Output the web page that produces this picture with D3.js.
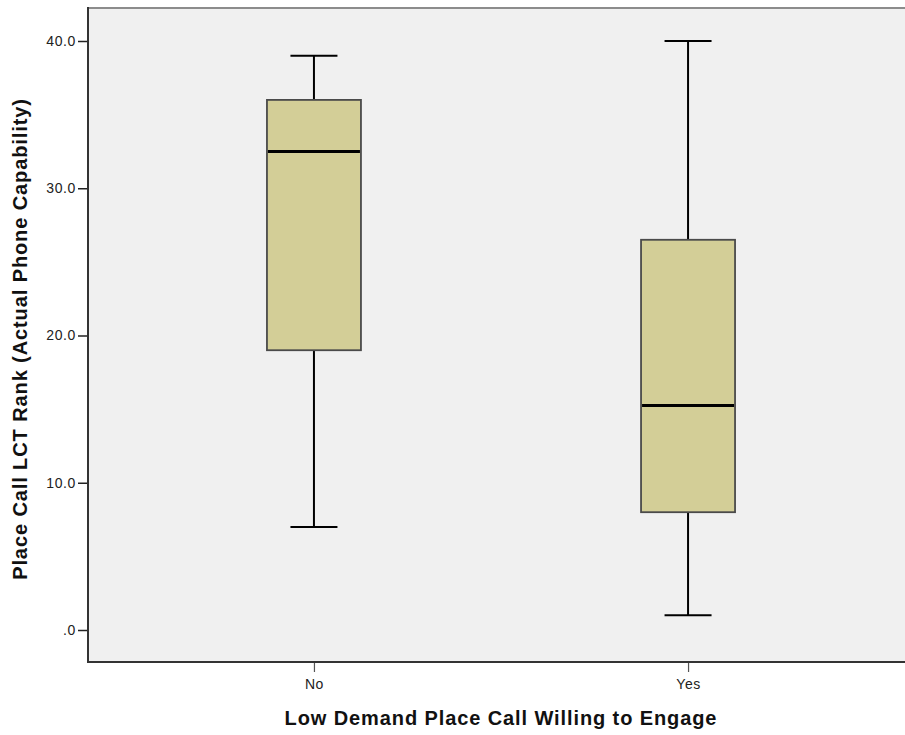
<!DOCTYPE html>
<html>
<head>
<meta charset="utf-8">
<script src="https://cdn.jsdelivr.net/npm/d3@7"></script>
<style>
  body { margin: 0; background: #fff; }
  svg { display: block; }
  text { font-family: "Liberation Sans", Arial, sans-serif; }
</style>
</head>
<body>
<script>
// Groups and their five-number summaries
const groups = ["No", "Yes"];
const whiskerLow = [7, 1];
const q1 = [19, 8];
const median = [32.5, 15.25];
const q3 = [36, 26.5];
const whiskerHigh = [39, 40];
const yTicks = [0, 10, 20, 30, 40];

const width = 905, height = 735;
const plot = { left: 88, top: 8, right: 914, bottom: 662 };

const svg = d3.select("body").append("svg")
  .attr("width", width).attr("height", height);

const x = d3.scalePoint().domain(groups)
  .range([plot.left, plot.right]).padding(0.604);
const y = d3.scaleLinear().domain([0, 40])
  .range([630, 41]);

// plot background
svg.append("rect")
  .attr("x", plot.left).attr("y", plot.top)
  .attr("width", plot.right - plot.left).attr("height", plot.bottom - plot.top)
  .attr("fill", "#f0f0f0");

// top frame line
svg.append("line")
  .attr("x1", plot.left).attr("x2", width)
  .attr("y1", plot.top).attr("y2", plot.top)
  .attr("stroke", "#8c8c8c").attr("stroke-width", 2);

const boxW = 94, capW = 47;
const data = groups.map((g, i) => ({
  g, lo: whiskerLow[i], q1: q1[i], med: median[i], q3: q3[i], hi: whiskerHigh[i]
}));

const box = svg.append("g").selectAll("g").data(data).join("g");

// whisker stems
box.append("line")
  .attr("x1", d => x(d.g)).attr("x2", d => x(d.g))
  .attr("y1", d => y(d.hi)).attr("y2", d => y(d.q3))
  .attr("stroke", "#000").attr("stroke-width", 2);
box.append("line")
  .attr("x1", d => x(d.g)).attr("x2", d => x(d.g))
  .attr("y1", d => y(d.q1)).attr("y2", d => y(d.lo))
  .attr("stroke", "#000").attr("stroke-width", 2);
// whisker caps
box.append("line")
  .attr("x1", d => x(d.g) - capW / 2).attr("x2", d => x(d.g) + capW / 2)
  .attr("y1", d => y(d.hi)).attr("y2", d => y(d.hi))
  .attr("stroke", "#000").attr("stroke-width", 2);
box.append("line")
  .attr("x1", d => x(d.g) - capW / 2).attr("x2", d => x(d.g) + capW / 2)
  .attr("y1", d => y(d.lo)).attr("y2", d => y(d.lo))
  .attr("stroke", "#000").attr("stroke-width", 2);
// boxes
box.append("rect")
  .attr("x", d => x(d.g) - boxW / 2).attr("width", boxW)
  .attr("y", d => y(d.q3)).attr("height", d => y(d.q1) - y(d.q3))
  .attr("fill", "#d3ce97").attr("stroke", "#4a4a4a").attr("stroke-width", 1.8);
// medians
box.append("line")
  .attr("x1", d => x(d.g) - boxW / 2 + 1).attr("x2", d => x(d.g) + boxW / 2 - 1)
  .attr("y1", d => y(d.med)).attr("y2", d => y(d.med))
  .attr("stroke", "#000").attr("stroke-width", 3);

// y axis
const yAxis = svg.append("g")
  .attr("transform", `translate(${plot.left},0)`)
  .call(d3.axisLeft(y).tickValues(yTicks).tickSize(10).tickPadding(2)
    .tickFormat(d => d === 0 ? ".0" : d3.format(".1f")(d)));
yAxis.select(".domain").remove();
yAxis.selectAll(".tick line").attr("stroke", "#222").attr("stroke-width", 1.5);
yAxis.selectAll(".tick text").attr("font-size", 14).attr("letter-spacing", 0.6)
  .attr("fill", "#222").attr("font-family", "Liberation Sans, Arial, sans-serif");

// x axis
const xAxis = svg.append("g")
  .attr("transform", `translate(0,${plot.bottom})`)
  .call(d3.axisBottom(x).tickSize(10).tickPadding(7));
xAxis.select(".domain").remove();
xAxis.selectAll(".tick line").attr("stroke", "#555").attr("stroke-width", 1.2);
xAxis.selectAll(".tick text").attr("font-size", 14).attr("letter-spacing", 0.6)
  .attr("fill", "#222").attr("font-family", "Liberation Sans, Arial, sans-serif");

// left and bottom frame lines
svg.append("line")
  .attr("x1", plot.left).attr("x2", plot.left)
  .attr("y1", plot.top - 1).attr("y2", plot.bottom)
  .attr("stroke", "#333").attr("stroke-width", 2);
svg.append("line")
  .attr("x1", plot.left - 1).attr("x2", width)
  .attr("y1", plot.bottom).attr("y2", plot.bottom)
  .attr("stroke", "#333").attr("stroke-width", 2);

// axis titles
svg.append("text")
  .attr("x", 501).attr("y", 725)
  .attr("text-anchor", "middle")
  .attr("font-size", 20).attr("letter-spacing", 0.9)
  .attr("font-weight", "bold").attr("fill", "#111")
  .text("Low Demand Place Call Willing to Engage");

svg.append("text")
  .attr("transform", "translate(27,339) rotate(-90)")
  .attr("text-anchor", "middle")
  .attr("font-size", 20).attr("letter-spacing", 0.9)
  .attr("font-weight", "bold").attr("fill", "#111")
  .text("Place Call LCT Rank (Actual Phone Capability)");
</script>
</body>
</html>
